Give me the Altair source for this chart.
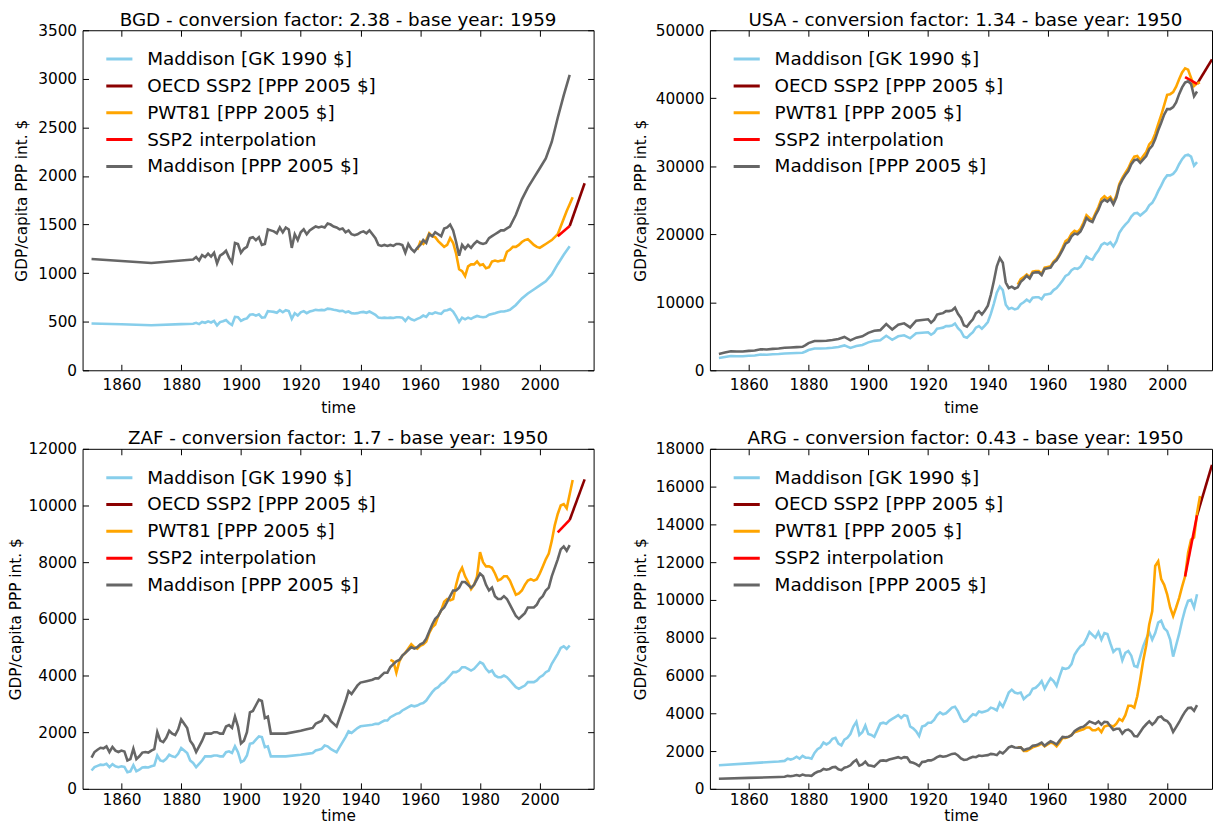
import altair as alt
import pandas as pd

SERIES = ["Maddison [GK 1990 $]", "OECD SSP2 [PPP 2005 $]", "PWT81 [PPP 2005 $]",
          "SSP2 interpolation", "Maddison [PPP 2005 $]"]
COLORS = ["#87ceeb", "#8b0000", "#ffa500", "#ff0000", "#666666"]
XTICKS = [1860, 1880, 1900, 1920, 1940, 1960, 1980, 2000]

# ---------------- BGD ----------------
bgd_years = [1850, 1860, 1870, 1880] + list(range(1884, 1991)) + list(range(1992, 2011, 2))
bgd_ppp = [1145, 1125, 1105, 1130,
           1140, 1165, 1130, 1185, 1165, 1200,
           1170, 1210, 1100, 1180, 1200, 1230, 1160, 1110, 1310, 1300,
           1210, 1250, 1270, 1360, 1370, 1340, 1370, 1290, 1300, 1450,
           1440, 1430, 1410, 1470, 1420, 1470, 1450, 1260, 1400, 1340,
           1420, 1450, 1400, 1440, 1460, 1480, 1470, 1480, 1470, 1510,
           1500, 1480, 1470, 1450, 1460, 1420, 1440, 1400, 1390, 1400,
           1420, 1430, 1410, 1440, 1400, 1360, 1290, 1280, 1290, 1280,
           1290, 1280, 1300, 1300, 1290, 1210, 1300, 1250, 1220, 1260,
           1290, 1340, 1310, 1400, 1380, 1420, 1400, 1380, 1460, 1470,
           1500, 1440, 1320, 1180, 1290, 1250, 1290, 1260, 1300, 1330,
           1310, 1300, 1310, 1360, 1380, 1400, 1420, 1440, 1440, 1460,
           1480,
           1600, 1760, 1880, 1980, 2080, 2180, 2350, 2600, 2830, 3040]
bgd_gk = [481, 473, 464, 475,
          479, 489, 475, 498, 489, 504,
          492, 508, 462, 496, 504, 517, 487, 466, 550, 546,
          508, 525, 534, 571, 576, 563, 576, 542, 546, 609,
          605, 601, 592, 618, 597, 618, 609, 529, 588, 563,
          597, 609, 588, 605, 613, 622, 618, 622, 618, 634,
          630, 622, 618, 609, 613, 597, 605, 588, 584, 588,
          597, 601, 592, 605, 588, 571, 542, 538, 542, 538,
          542, 538, 546, 546, 542, 508, 546, 525, 513, 529,
          542, 563, 550, 588, 580, 597, 588, 580, 613, 618,
          630, 605, 555, 496, 542, 525, 542, 529, 546, 559,
          550, 546, 550, 571, 580, 588, 597, 605, 605, 613,
          622,
          672, 739, 790, 832, 874, 916, 987, 1092, 1189, 1277]
bgd_pwt_years = list(range(1959, 2012))
bgd_pwt = [1240,
           1320, 1300, 1340, 1410, 1380, 1370, 1330, 1300, 1270, 1290,
           1360, 1310, 1200, 1040, 1020, 970, 1070, 1090, 1090, 1120,
           1080, 1090, 1050, 1060, 1120, 1130, 1120, 1130, 1130, 1220,
           1240, 1270, 1270, 1290, 1320, 1340, 1350, 1320, 1290, 1270,
           1260, 1280, 1300, 1320, 1340, 1370, 1400, 1480, 1560, 1640,
           1710, 1780]
bgd_interp_years = [2006, 2010]
bgd_interp = [1380, 1485]
bgd_ssp_years = [2010, 2015]
bgd_ssp = [1485, 1925]

# ---------------- USA ----------------
usa_years = list(range(1850, 1879, 2)) + [1879] + list(range(1880, 1921, 2)) + list(range(1921, 2011))
usa_ppp = [2400, 2600, 2800, 2750, 2750, 2850, 2900, 3100, 3050, 3150, 3200, 3300, 3350, 3400, 3450,
           3700,
           4000, 4300, 4300, 4350, 4450, 4600, 4900, 4400, 4800, 5000, 5500, 5800, 5900, 6800, 6000,
           6700, 6900, 6300, 7300, 7400, 7500,
           7000, 7400, 8200, 8300, 8400, 8700, 8700, 8800, 9200, 8300,
           7700, 6600, 6400, 7000, 7500, 8400, 8700, 8200, 8800, 9500,
           11100, 13100, 15300, 16500, 15800, 12900, 12100, 12300, 12000, 12200,
           13000, 13400, 13900, 13500, 14300, 14400, 14400, 14000, 14900, 15000,
           15100, 15800, 16200, 16900, 17700, 18600, 18900, 19700, 20100, 20000,
           20400, 21300, 22400, 22000, 21800, 22800, 23600, 24700, 25100, 24800,
           25200, 24400, 25400, 27100, 28000, 28700, 29300, 30300, 30900, 31000,
           30500, 31000, 31500, 32500, 33000, 34000, 35300, 36400, 37600, 38400,
           38400, 38700, 39400, 40600, 41600, 42300, 42500, 42100, 40300, 41000]
usa_gk = [1791, 1940, 2090, 2052, 2052, 2127, 2164, 2313, 2276, 2351, 2388, 2463, 2500, 2537, 2575,
          2761,
          2985, 3209, 3209, 3246, 3321, 3433, 3657, 3284, 3582, 3731, 4104, 4328, 4403, 5075, 4478,
          5000, 5149, 4701, 5448, 5522, 5597,
          5224, 5522, 6119, 6194, 6269, 6493, 6493, 6567, 6866, 6194,
          5746, 4925, 4776, 5224, 5597, 6269, 6493, 6119, 6567, 7090,
          8284, 9776, 11418, 12313, 11791, 9627, 9030, 9179, 8955, 9104,
          9701, 10000, 10373, 10075, 10672, 10746, 10746, 10448, 11119, 11194,
          11269, 11791, 12090, 12612, 13209, 13881, 14104, 14701, 15000, 14925,
          15224, 15896, 16716, 16418, 16269, 17015, 17612, 18433, 18731, 18507,
          18806, 18209, 18955, 20224, 20896, 21418, 21866, 22612, 23060, 23134,
          22761, 23134, 23507, 24254, 24627, 25373, 26343, 27164, 28060, 28657,
          28657, 28881, 29403, 30299, 31045, 31567, 31716, 31418, 30075, 30597]
usa_pwt_years = list(range(1950, 2012))
usa_pwt = [12600, 13400, 13700, 14100, 13700, 14500, 14600, 14600, 14200, 15100,
           15200, 15300, 16000, 16400, 17100, 18000, 19000, 19300, 20100, 20500,
           20300, 20800, 21700, 22800, 22400, 22100, 23100, 24000, 25200, 25600,
           25200, 25500, 24700, 25700, 27400, 28300, 29000, 29700, 30700, 31400,
           31500, 30900, 31500, 32100, 33200, 33700, 34800, 36200, 37500, 39000,
           40500, 40600, 40900, 41700, 42800, 43800, 44400, 44200, 43000, 41800,
           42200, 42300]
usa_interp_years = [2006, 2010]
usa_interp = [43100, 42100]
usa_ssp_years = [2010, 2015]
usa_ssp = [42100, 45700]

# ---------------- ZAF ----------------
zaf_years = (list(range(1850, 1911)) + [1915, 1920, 1922, 1924] + list(range(1925, 1941))
             + [1942, 1944] + list(range(1945, 2011)))
zaf_ppp = [1100, 1300, 1380, 1450, 1430, 1500, 1300, 1480, 1350, 1300,
           1350, 1320, 1000, 1050, 1420, 1050, 1150, 1280, 1300, 1280,
           1350, 1400, 2000, 1700, 1650, 1800, 2050, 1950, 1900, 2100,
           2450, 2300, 2150, 1700, 1550, 1300, 1500, 1700, 1950, 1950,
           1950, 2000, 2000, 1950, 1950, 2200, 2250, 2150, 2550, 2200,
           1600, 1700, 2000, 2700, 2750, 2950, 3150, 3100, 2500, 2550,
           1950,
           1950, 2050, 2100, 2150,
           2300, 2350, 2400, 2600, 2550, 2400, 2300, 2200, 2500, 2800,
           3100, 3450, 3350, 3500, 3650, 3750,
           3800, 3850,
           3900, 3900, 4000, 4100, 4100, 4300, 4400, 4500, 4550, 4700,
           4800, 4900, 5000, 4950, 5000, 5100, 5150, 5300, 5550, 5800,
           6000, 6100, 6300, 6400, 6600, 6800, 7000, 7000, 7100, 7300,
           7300, 7200, 7100, 7200, 7400, 7600, 7500, 7200, 7000, 7100,
           6800, 6700, 6700, 6800, 6700, 6500, 6300, 6100, 6000, 6100,
           6200, 6400, 6400, 6400, 6500, 6700, 6800, 7000, 7100, 7500,
           7800, 8100, 8450, 8550, 8400, 8600]
zaf_gk = [647, 765, 812, 853, 841, 882, 765, 871, 794, 765,
          794, 776, 588, 618, 835, 618, 676, 753, 765, 753,
          794, 824, 1176, 1000, 971, 1059, 1206, 1147, 1118, 1235,
          1441, 1353, 1265, 1000, 912, 765, 882, 1000, 1147, 1147,
          1147, 1176, 1176, 1147, 1147, 1294, 1324, 1265, 1500, 1294,
          941, 1000, 1176, 1588, 1618, 1735, 1853, 1824, 1471, 1500,
          1147,
          1147, 1206, 1235, 1265,
          1353, 1382, 1412, 1529, 1500, 1412, 1353, 1294, 1471, 1647,
          1824, 2029, 1971, 2059, 2147, 2206,
          2235, 2265,
          2294, 2294, 2353, 2412, 2412, 2529, 2588, 2647, 2676, 2765,
          2824, 2882, 2941, 2912, 2941, 3000, 3029, 3118, 3265, 3412,
          3529, 3588, 3706, 3765, 3882, 4000, 4118, 4118, 4176, 4294,
          4294, 4235, 4176, 4235, 4353, 4471, 4412, 4235, 4118, 4176,
          4000, 3941, 3941, 4000, 3941, 3824, 3706, 3588, 3529, 3588,
          3647, 3765, 3765, 3765, 3824, 3941, 4000, 4118, 4176, 4412,
          4588, 4765, 4971, 5029, 4941, 5059]
zaf_pwt_years = list(range(1950, 2012))
zaf_pwt = [4550, 4500, 4100, 4500, 4700, 4800, 4950, 5100, 5000, 4950,
           5050, 5100, 5200, 5500, 5700, 5800, 6100, 6300, 6600, 6700,
           6650, 6700, 7200, 7600, 7800, 7500, 7300, 7050, 7200, 7500,
           8350, 8000, 7850, 7850, 7800, 7600, 7350, 7400, 7500, 7500,
           7350, 7100, 6850, 6900, 7000, 7200, 7350, 7400, 7350, 7400,
           7600, 7850, 8100, 8300, 8750, 9300, 9700, 10000, 10050, 9900,
           10400, 10900]
zaf_interp_years = [2006, 2010]
zaf_interp = [9050, 9490]
zaf_ssp_years = [2010, 2015]
zaf_ssp = [9490, 10920]

# ---------------- ARG ----------------
arg_years = [1850, 1860, 1870] + list(range(1872, 2011))
arg_gk = [1250, 1350, 1450,
          1480, 1600, 1550, 1600, 1700, 1600, 1750, 1650,
          1650, 1600, 1900, 2100, 2200, 2450, 2350, 2450, 2650, 2700,
          2400, 2300, 2600, 2700, 2900, 3300, 3550, 2850, 3000, 3350,
          2900, 2850, 2750, 3100, 3450, 3500, 3450, 3600, 3700, 3800,
          3900, 3750, 3900, 3850, 3300, 3200, 3050, 2800, 3300, 3350,
          3500, 3500, 3650, 3900, 4050, 3950, 4000, 4150, 4300, 4350,
          4100, 3750, 3550, 3600, 3800, 3950, 3900, 4100, 4050, 4100,
          4150, 4300, 4250, 4150, 4550, 4350, 4700, 5100, 5250, 5100,
          5050, 5100, 4750, 4900, 5000, 5300, 5350, 5500, 5700, 5300,
          5600, 5850, 5700, 5450, 5950, 6400, 6350, 6400, 6600, 7100,
          7350, 7550, 7650, 7950, 8300, 8150, 8000, 8300, 7900, 8250,
          8200, 7700, 7250, 7400, 7400, 6800, 7200, 7300, 7050, 6500,
          6450, 7000, 7550, 7950, 8300, 7900, 8250, 8800, 8900, 8500,
          8350, 7900, 7000, 7600, 8200, 8900, 9500, 9950, 10000, 9600, 10300]
arg_ppp = [538, 581, 624,
           636, 688, 667, 688, 731, 688, 753, 710,
           710, 688, 817, 903, 946, 1054, 1011, 1054, 1140, 1161,
           1032, 989, 1118, 1161, 1247, 1419, 1527, 1226, 1290, 1441,
           1247, 1226, 1183, 1333, 1484, 1505, 1484, 1548, 1591, 1634,
           1677, 1613, 1677, 1656, 1419, 1376, 1312, 1204, 1419, 1441,
           1505, 1505, 1570, 1677, 1742, 1699, 1720, 1785, 1849, 1871,
           1763, 1613, 1527, 1548, 1634, 1699, 1677, 1763, 1742, 1763,
           1785, 1849, 1828, 1785, 1957, 1871, 2021, 2193, 2258, 2193,
           2172, 2193, 2043, 2107, 2150, 2279, 2301, 2365, 2451, 2279,
           2408, 2516, 2451, 2344, 2559, 2752, 2731, 2752, 2838, 3053,
           3161, 3247, 3290, 3419, 3569, 3505, 3440, 3569, 3397, 3548,
           3526, 3311, 3118, 3182, 3182, 2924, 3096, 3139, 3032, 2795,
           2774, 3010, 3247, 3419, 3569, 3397, 3548, 3784, 3827, 3655,
           3591, 3397, 3010, 3268, 3526, 3827, 4085, 4279, 4300, 4128, 4429]
arg_pwt_years = list(range(1950, 2012))
arg_pwt = [2200, 2200, 2000, 2000, 2100, 2200, 2250, 2300, 2400, 2250,
           2350, 2450, 2400, 2250, 2450, 2700, 2700, 2750, 2850, 3000,
           3050, 3100, 3150, 3250, 3250, 3100, 3100, 3200, 3000, 3300,
           3350, 3350, 3300, 3450, 3700, 3600, 3900, 4400, 4400, 4300,
           4900, 5800, 6800, 7600, 8700, 9400, 11800, 12050, 11100, 10800,
           10300, 9600, 9150, 9600, 10100, 10700, 11250, 12500, 13200, 13300,
           14600, 15500]
arg_interp_years = [2006, 2010]
arg_interp = [11240, 14480]
arg_ssp_years = [2010, 2015]
arg_ssp = [14480, 17150]


def make_df(years, gk, ppp, pwt_years, pwt, int_years, interp, ssp_years, ssp):
    assert len(years) == len(gk) == len(ppp), (len(years), len(gk), len(ppp))
    assert len(pwt_years) == len(pwt)
    rows = []
    for y, v in zip(years, gk):
        rows.append((SERIES[0], y, v))
    for y, v in zip(ssp_years, ssp):
        rows.append((SERIES[1], y, v))
    for y, v in zip(pwt_years, pwt):
        rows.append((SERIES[2], y, v))
    for y, v in zip(int_years, interp):
        rows.append((SERIES[3], y, v))
    for y, v in zip(years, ppp):
        rows.append((SERIES[4], y, v))
    return pd.DataFrame(rows, columns=["series", "year", "value"])


PANEL_H = 342
LEFT_W = 514
RIGHT_W = 505
PX_PER_YEAR = LEFT_W / (2018 - 1847)
RIGHT_XMAX = 1847 + RIGHT_W / PX_PER_YEAR
RIGHT_DX = (LEFT_W - RIGHT_W) / 2


def panel(df, title, ymax, yticks, width, xmax, ytitle_pad, right_ticks, title_dx,
          xlabel_pad, xtitle_pad):
    xscale = alt.Scale(domain=[1847, xmax], nice=False, zero=False)
    yscale = alt.Scale(domain=[0, ymax], nice=False)
    lines = alt.Chart(df).mark_line(strokeWidth=2.6, clip=True).encode(
        x=alt.X("year:Q", scale=xscale,
                axis=alt.Axis(values=XTICKS, format="d", title="time", offset=-6,
                              tickSize=6, labelPadding=xlabel_pad, titlePadding=xtitle_pad)),
        y=alt.Y("value:Q", scale=yscale,
                axis=alt.Axis(values=yticks, format="d", title="GDP/capita PPP int. $",
                              offset=-6, tickSize=6, labelPadding=6,
                              titlePadding=ytitle_pad)),
        color=alt.Color("series:N",
                        scale=alt.Scale(domain=SERIES, range=COLORS),
                        legend=alt.Legend(title=None, orient="none", legendX=22, legendY=19,
                                          symbolType="stroke", symbolStrokeWidth=3,
                                          symbolSize=690, labelFontSize=18.5, labelOffset=13,
                                          clipHeight=20, rowPadding=7, padding=0,
                                          labelLimit=400, labelColor="black")),
    )
    if right_ticks:
        yax = alt.Axis(orient="right", values=yticks, labels=False, title=None,
                       offset=-6, tickSize=6, minExtent=0)
    else:
        yax = None
    ticks = alt.Chart(df).mark_point(opacity=0, clip=True).encode(
        x=alt.X("year:Q", scale=xscale,
                axis=alt.Axis(orient="top", values=XTICKS, labels=False, title=None,
                              offset=-6, tickSize=6, minExtent=0)),
        y=alt.Y("value:Q", scale=yscale, axis=yax),
    )
    return alt.layer(lines, ticks).resolve_axis(x="independent", y="independent").properties(
        width=width, height=PANEL_H, title=alt.TitleParams(title, dx=title_dx))


df_bgd = make_df(bgd_years, bgd_gk, bgd_ppp, bgd_pwt_years, bgd_pwt,
                 bgd_interp_years, bgd_interp, bgd_ssp_years, bgd_ssp)
df_usa = make_df(usa_years, usa_gk, usa_ppp, usa_pwt_years, usa_pwt,
                 usa_interp_years, usa_interp, usa_ssp_years, usa_ssp)
df_zaf = make_df(zaf_years, zaf_gk, zaf_ppp, zaf_pwt_years, zaf_pwt,
                 zaf_interp_years, zaf_interp, zaf_ssp_years, zaf_ssp)
df_arg = make_df(arg_years, arg_gk, arg_ppp, arg_pwt_years, arg_pwt,
                 arg_interp_years, arg_interp, arg_ssp_years, arg_ssp)

p_bgd = panel(df_bgd, "BGD - conversion factor: 2.38 - base year: 1959", 3500,
              list(range(0, 3501, 500)), LEFT_W, 2018, 8, True, 0, 7, 8)
p_usa = panel(df_usa, "USA - conversion factor: 1.34 - base year: 1950", 50000,
              list(range(0, 50001, 10000)), RIGHT_W, RIGHT_XMAX, 7, False, RIGHT_DX, 7, 8)
p_zaf = panel(df_zaf, "ZAF - conversion factor: 1.7 - base year: 1950", 12000,
              list(range(0, 12001, 2000)), LEFT_W, 2018, 4.5, True, 0, 4, 0)
p_arg = panel(df_arg, "ARG - conversion factor: 0.43 - base year: 1950", 18000,
              list(range(0, 18001, 2000)), RIGHT_W, RIGHT_XMAX, 7, False, RIGHT_DX, 4, 0)

chart = (
    alt.concat(p_bgd, p_usa, p_zaf, p_arg, columns=2,
               spacing={"row": 12, "column": 38}, align="each")
    .resolve_scale(color="independent")
    .properties(padding=0)
    .configure(font="DejaVu Sans")
    .configure_view(stroke="black", strokeWidth=1)
    .configure_axis(labelFontSize=15.4, titleFontSize=15.4, titleFontWeight="normal",
                    labelColor="black", titleColor="black", tickColor="black",
                    tickWidth=1, grid=False, domain=False)
    .configure_title(fontSize=18.4, fontWeight="normal", color="black", offset=-6,
                     anchor="middle")
)

chart.save("out.html", embed_options={"renderer": "svg", "actions": False})
